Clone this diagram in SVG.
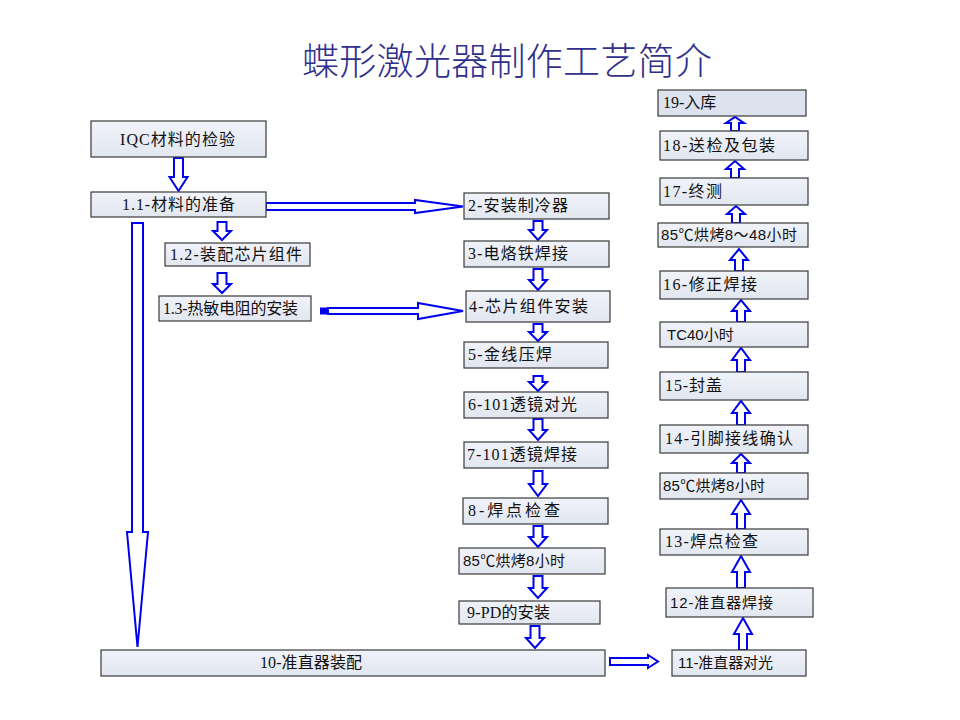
<svg xmlns="http://www.w3.org/2000/svg" width="960" height="720" viewBox="0 0 960 720">
<defs>
<linearGradient id="bf" x1="0" y1="0" x2="0" y2="1">
<stop offset="0" stop-color="#f1f3f9"/>
<stop offset="1" stop-color="#e1e6f0"/>
</linearGradient>
<style>
.box{fill:url(#bf);stroke:#3a3a3a;stroke-width:1.2}
.box2{fill:#dde2ef;stroke:#3a3a3a;stroke-width:1.2}
.t{font-family:"Liberation Serif","Noto Sans CJK SC",serif;font-size:16px;fill:#111}
.s{font-family:"Liberation Sans","Noto Sans CJK SC",sans-serif;font-size:15px;fill:#111}
.arr{fill:#fff;stroke:#0000ee;stroke-width:2;stroke-linejoin:miter}
.title{font-family:"Noto Sans CJK SC",sans-serif;font-size:37px;fill:#30308c;font-weight:300}
</style>
</defs>
<rect width="960" height="720" fill="#fff"/>
<text class="title" x="302" y="75" textLength="410" lengthAdjust="spacing">蝶形激光器制作工艺简介</text>

<g id="connectors">
<path class="arr" d="M174,158 L183,158 L183,177 L187.5,177 L178.5,191 L169.5,177 L174,177 Z"/>
<path class="arr" d="M217.5,222 L226.5,222 L226.5,231 L231,231 L222,240 L213,231 L217.5,231 Z"/>
<path class="arr" d="M217.5,273 L226.5,273 L226.5,284 L231,284 L222,293 L213,284 L217.5,284 Z"/>
<path class="arr" d="M132,223 L143,223 L143,532 L148,532 L137.5,647 L127,532 L132,532 Z"/>
<path class="arr" d="M266,203 L415,203 L415,200 L463,206.5 L415,213 L415,210 L266,210 Z"/>
<rect x="320" y="307.5" width="8" height="7" fill="#0000ee"/>
<path class="arr" d="M328,308 L418,308 L418,303 L463,311 L418,319 L418,314 L328,314 Z"/>
<path class="arr" d="M533.5,221 L542.5,221 L542.5,230 L547,230 L538,240 L529,230 L533.5,230 Z"/>
<path class="arr" d="M533.5,269 L542.5,269 L542.5,280 L547,280 L538,290 L529,280 L533.5,280 Z"/>
<path class="arr" d="M533.5,324 L542.5,324 L542.5,332 L547,332 L538,341 L529,332 L533.5,332 Z"/>
<path class="arr" d="M533.5,376 L542.5,376 L542.5,382 L547,382 L538,391 L529,382 L533.5,382 Z"/>
<path class="arr" d="M533.5,419 L542.5,419 L542.5,430 L547,430 L538,440 L529,430 L533.5,430 Z"/>
<path class="arr" d="M533.5,471 L542.5,471 L542.5,484 L547,484 L538,496 L529,484 L533.5,484 Z"/>
<path class="arr" d="M533.5,526 L542.5,526 L542.5,537 L547,537 L538,547 L529,537 L533.5,537 Z"/>
<path class="arr" d="M533.5,576 L542.5,576 L542.5,588 L547,588 L538,598 L529,588 L533.5,588 Z"/>
<path class="arr" d="M530.5,626 L539.5,626 L539.5,638 L544,638 L535,648 L526,638 L530.5,638 Z"/>
<path class="arr" d="M610,658 L648,658 L648,655 L658,661.5 L648,668 L648,665 L610,665 Z"/>
<path class="arr" d="M731,131 L731,123 L726,123 L735,117 L744,123 L739,123 L739,131 Z"/>
<path class="arr" d="M731,178 L731,169 L726,169 L735,161 L744,169 L739,169 L739,178 Z"/>
<path class="arr" d="M732,223 L732,214 L727,214 L736,206 L745,214 L740,214 L740,223 Z"/>
<path class="arr" d="M735,271 L735,260 L730,260 L739,249 L748,260 L743,260 L743,271 Z"/>
<path class="arr" d="M737,322 L737,311 L732,311 L741,300 L750,311 L745,311 L745,322 Z"/>
<path class="arr" d="M737,372 L737,360 L732,360 L741,348 L750,360 L745,360 L745,372 Z"/>
<path class="arr" d="M737,425 L737,413 L732,413 L741,401 L750,413 L745,413 L745,425 Z"/>
<path class="arr" d="M737,473 L737,463 L732,463 L741,454 L750,463 L745,463 L745,473 Z"/>
<path class="arr" d="M737,529 L737,514 L732,514 L741,500 L750,514 L745,514 L745,529 Z"/>
<path class="arr" d="M737,588 L737,572 L732,572 L741,556 L750,572 L745,572 L745,588 Z"/>
<path class="arr" d="M739,650 L739,634 L734,634 L743,618 L752,634 L747,634 L747,650 Z"/>
</g>

<g id="n-iqc"><rect class="box" x="91" y="121" width="175" height="36"/><text class="t" x="120" y="145" textLength="115" lengthAdjust="spacing">IQC材料的检验</text></g>
<g id="n-1-1"><rect class="box" x="91" y="192" width="175" height="25"/><text class="t" x="122" y="210" textLength="113" lengthAdjust="spacing">1.1-材料的准备</text></g>
<g id="n-1-2"><rect class="box" x="165" y="243" width="145" height="23"/><text class="t" x="170" y="260" textLength="132" lengthAdjust="spacing">1.2-装配芯片组件</text></g>
<g id="n-1-3"><rect class="box" x="159" y="296" width="152" height="25"/><text class="t" x="163" y="314" textLength="135" lengthAdjust="spacing">1.3-热敏电阻的安装</text></g>

<g id="n-2"><rect class="box" x="464" y="193" width="145" height="26"/><text class="t" x="468" y="211" textLength="100" lengthAdjust="spacing">2-安装制冷器</text></g>
<g id="n-3"><rect class="box" x="464" y="241" width="145" height="26"/><text class="t" x="468" y="259" textLength="100" lengthAdjust="spacing">3-电烙铁焊接</text></g>
<g id="n-4"><rect class="box" x="466" y="291" width="144" height="31"/><text class="t" x="469" y="312" textLength="119" lengthAdjust="spacing">4-芯片组件安装</text></g>
<g id="n-5"><rect class="box" x="464" y="342" width="144" height="26"/><text class="t" x="468" y="360" textLength="84" lengthAdjust="spacing">5-金线压焊</text></g>
<g id="n-6"><rect class="box" x="464" y="392" width="144" height="26"/><text class="t" x="468" y="410" textLength="109" lengthAdjust="spacing">6-101透镜对光</text></g>
<g id="n-7"><rect class="box" x="464" y="442" width="144" height="26"/><text class="t" x="467" y="460" textLength="110" lengthAdjust="spacing">7-101透镜焊接</text></g>
<g id="n-8"><rect class="box" x="463" y="498" width="145" height="26"/><text class="t" x="468" y="516" textLength="92" lengthAdjust="spacing">8-焊点检查</text></g>
<g id="n-bake1"><rect class="box" x="459" y="548" width="146" height="26"/><text class="s" x="463" y="566" textLength="102" lengthAdjust="spacing">85℃烘烤8小时</text></g>
<g id="n-9"><rect class="box" x="459" y="601" width="141" height="23"/><text class="t" x="467" y="618" textLength="83" lengthAdjust="spacing">9-PD的安装</text></g>
<g id="n-10"><rect class="box" x="101" y="650" width="504" height="26"/><text class="t" x="260" y="668" textLength="102" lengthAdjust="spacing">10-准直器装配</text></g>

<g id="n-11"><rect class="box" x="672" y="650" width="134" height="26"/><text class="s" x="678" y="668" textLength="95" lengthAdjust="spacing">11-准直器对光</text></g>
<g id="n-12"><rect class="box" x="666" y="588" width="147" height="29"/><text class="s" x="670" y="608" textLength="103" lengthAdjust="spacing">12-准直器焊接</text></g>
<g id="n-13"><rect class="box" x="660" y="529" width="148" height="26"/><text class="t" x="665" y="547" textLength="93" lengthAdjust="spacing">13-焊点检查</text></g>
<g id="n-bake2"><rect class="box" x="660" y="473" width="148" height="26"/><text class="s" x="663" y="491" textLength="102" lengthAdjust="spacing">85℃烘烤8小时</text></g>
<g id="n-14"><rect class="box" x="660" y="425" width="148" height="28"/><text class="t" x="665" y="444" textLength="128" lengthAdjust="spacing">14-引脚接线确认</text></g>
<g id="n-15"><rect class="box" x="660" y="372" width="148" height="28"/><text class="t" x="665" y="391" textLength="57" lengthAdjust="spacing">15-封盖</text></g>
<g id="n-tc40"><rect class="box" x="660" y="322" width="148" height="25"/><text class="s" x="667" y="340">TC40小时</text></g>
<g id="n-16"><rect class="box" x="660" y="271" width="148" height="28"/><text class="t" x="663" y="290" textLength="94" lengthAdjust="spacing">16-修正焊接</text></g>
<g id="n-bake3"><rect class="box" x="658" y="223" width="150" height="24"/><text class="s" x="661" y="240" textLength="136" lengthAdjust="spacing">85℃烘烤8～48小时</text></g>
<g id="n-17"><rect class="box" x="660" y="178" width="148" height="27"/><text class="t" x="663" y="197" textLength="59" lengthAdjust="spacing">17-终测</text></g>
<g id="n-18"><rect class="box" x="660" y="131" width="148" height="29"/><text class="t" x="663" y="151" textLength="112" lengthAdjust="spacing">18-送检及包装</text></g>
<g id="n-19"><rect class="box2" x="658" y="90" width="148" height="26"/><text class="t" x="663" y="108">19-入库</text></g>
</svg>
